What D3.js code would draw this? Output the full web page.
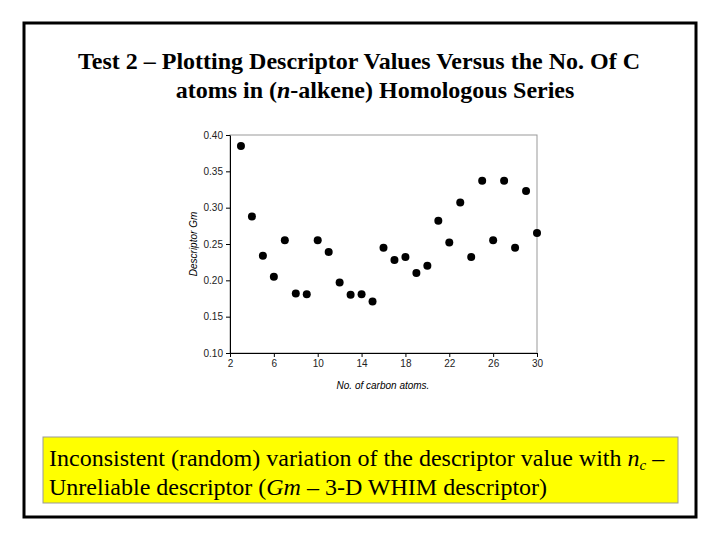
<!DOCTYPE html>
<html><head><meta charset="utf-8">
<script src="https://cdn.jsdelivr.net/npm/d3@7"></script>
<style>body{margin:0;background:#fff}</style>
</head><body>
<script>
// nombre d'atomes de carbone et valeur du descripteur Gm
var carbons = [3,4,5,6,7,8,9,10,11,12,13,14,15,16,17,18,19,20,21,22,23,24,25,26,27,28,29,30];
var gm = [0.385,0.288,0.234,0.205,0.255,0.182,0.181,0.255,0.239,0.197,0.180,0.181,0.171,0.245,
          0.228,0.232,0.210,0.220,0.282,0.252,0.307,0.232,0.337,0.255,0.337,0.245,0.323,0.265];
var xTicks = [2,6,10,14,18,22,26,30];
var yTicks = [0.10,0.15,0.20,0.25,0.30,0.35,0.40];

var svg = d3.select("body").append("svg").attr("width",720).attr("height",540);

svg.append("rect").attr("x",24).attr("y",23).attr("width",672).attr("height",494)
  .attr("fill","none").attr("stroke","#000").attr("stroke-width",3);

var title = svg.append("text").attr("font-family","Liberation Serif").attr("font-weight","bold")
  .attr("font-size",24).attr("text-anchor","middle");
title.append("tspan").attr("x",359).attr("y",69).text("Test 2 \u2013 Plotting Descriptor Values Versus the No. Of C");
var t2 = title.append("tspan").attr("x",375).attr("y",98);
t2.append("tspan").text("atoms in (");
t2.append("tspan").attr("font-style","italic").text("n");
t2.append("tspan").text("-alkene) Homologous Series");

var x = d3.scaleLinear().domain([2,30]).range([230,537]);
var y = d3.scaleLinear().domain([0.10,0.40]).range([353,135]);

svg.append("rect").attr("x",230).attr("y",135).attr("width",307).attr("height",218)
  .attr("fill","none").attr("stroke","#999").attr("stroke-width",1);

var ax = svg.append("g").attr("transform","translate(0,353)")
  .call(d3.axisBottom(x).tickValues(xTicks).tickSize(4).tickSizeOuter(0));
var ay = svg.append("g").attr("transform","translate(230,0)")
  .call(d3.axisLeft(y).tickValues(yTicks).tickFormat(d3.format(".2f")).tickSize(4).tickSizeOuter(0));
[ax,ay].forEach(function(a){
  a.selectAll("path,line").attr("stroke","#000");
  a.selectAll("text").attr("font-family","Liberation Sans").attr("font-size",10).attr("fill","#222");
});

svg.append("text").attr("x",383).attr("y",389).attr("text-anchor","middle")
  .attr("font-family","Liberation Sans").attr("font-style","italic").attr("font-size",10)
  .text("No. of carbon atoms.");
svg.append("text").attr("transform","translate(197,244) rotate(-90)").attr("text-anchor","middle")
  .attr("font-family","Liberation Sans").attr("font-style","italic").attr("font-size",10)
  .text("Descriptor Gm");

svg.selectAll("circle").data(carbons).enter().append("circle")
  .attr("cx",function(d){return x(d);})
  .attr("cy",function(d,i){return y(gm[i]);})
  .attr("r",4).attr("fill","#000");

svg.append("rect").attr("x",43).attr("y",437).attr("width",635).attr("height",66)
  .attr("fill","#ffff00").attr("stroke","#999").attr("stroke-width",1);
var c = svg.append("text").attr("font-family","Liberation Serif").attr("font-size",24);
var l1 = c.append("tspan").attr("x",49).attr("y",466);
l1.append("tspan").text("Inconsistent (random) variation of the descriptor value with ");
l1.append("tspan").attr("font-style","italic").text("n");
l1.append("tspan").attr("font-style","italic").attr("font-size",15).attr("dy",4).text("c");
l1.append("tspan").attr("dy",-4).text(" \u2013");
var l2 = c.append("tspan").attr("x",49).attr("y",495);
l2.append("tspan").text("Unreliable descriptor (");
l2.append("tspan").attr("font-style","italic").text("Gm");
l2.append("tspan").text(" \u2013 3-D WHIM descriptor)");
</script>
</body></html>
